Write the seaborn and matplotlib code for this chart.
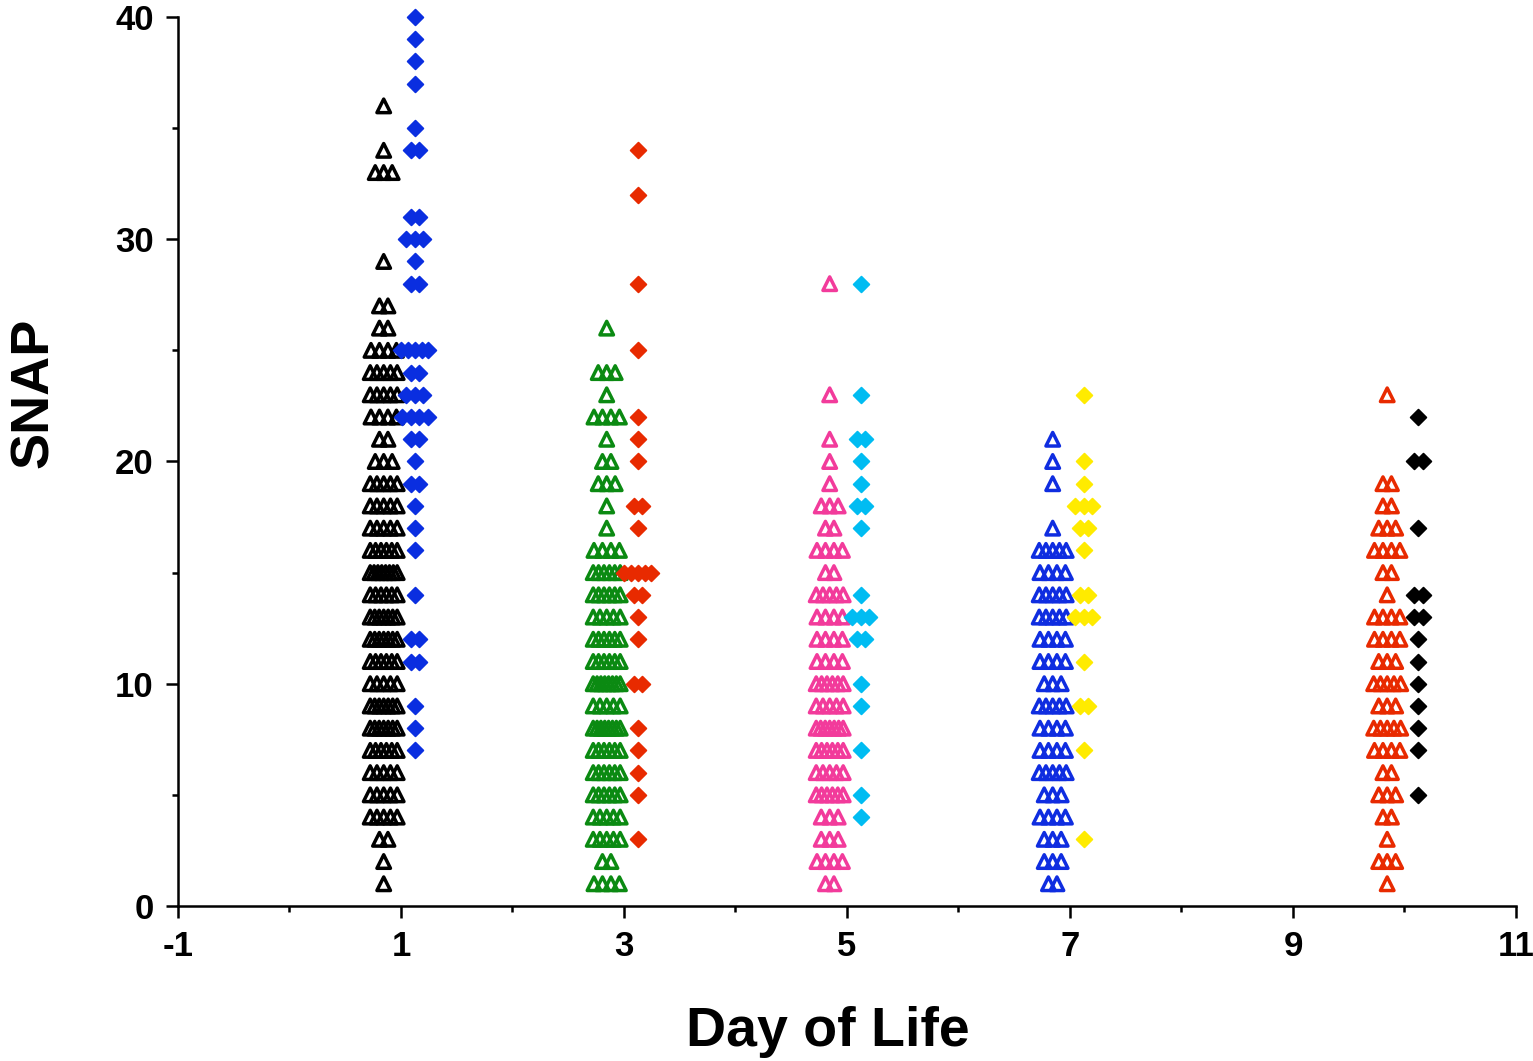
import numpy as np
import pandas as pd
import matplotlib
matplotlib.use("Agg")
import matplotlib.pyplot as plt
import seaborn as sns
from matplotlib.ticker import FixedLocator

# SNAP score -> number of infants with that score, per day of life.
# "open" = open triangles (left column), "solid" = filled diamonds (right column)
days = [1, 3, 5, 7, 10]

day1_open = {36: 1, 34: 1, 33: 3, 29: 1, 27: 2, 26: 2, 25: 4, 24: 5, 23: 5, 22: 4,
             21: 2, 20: 3, 19: 5, 18: 5, 17: 5, 16: 6, 15: 8, 14: 6, 13: 7, 12: 7,
             11: 6, 10: 5, 9: 7, 8: 7, 7: 6, 6: 5, 5: 5, 4: 5, 3: 2, 2: 1, 1: 1}
day1_solid = {40: 1, 39: 1, 38: 1, 37: 1, 35: 1, 34: 2, 31: 2, 30: 3, 29: 1, 28: 2,
              25: 5, 24: 2, 23: 3, 22: 4, 21: 2, 20: 1, 19: 2, 18: 1, 17: 1, 16: 1,
              14: 1, 12: 2, 11: 2, 9: 1, 8: 1, 7: 1}

day3_open = {26: 1, 24: 3, 23: 1, 22: 4, 21: 1, 20: 2, 19: 3, 18: 1, 17: 1, 16: 4,
             15: 6, 14: 6, 13: 5, 12: 6, 11: 6, 10: 8, 9: 5, 8: 8, 7: 6, 6: 6,
             5: 6, 4: 5, 3: 5, 2: 2, 1: 4}
day3_solid = {34: 1, 32: 1, 28: 1, 25: 1, 22: 1, 21: 1, 20: 1, 18: 2, 17: 1, 15: 5,
              14: 2, 13: 1, 12: 1, 10: 2, 8: 1, 7: 1, 6: 1, 5: 1, 3: 1}

day5_open = {28: 1, 23: 1, 21: 1, 20: 1, 19: 1, 18: 3, 17: 2, 16: 4, 15: 2, 14: 5,
             13: 4, 12: 4, 11: 4, 10: 6, 9: 5, 8: 7, 7: 6, 6: 5, 5: 6, 4: 3,
             3: 3, 2: 4, 1: 2}
day5_solid = {28: 1, 23: 1, 21: 2, 20: 1, 19: 1, 18: 2, 17: 1, 14: 1, 13: 3, 12: 2,
              10: 1, 9: 1, 7: 1, 5: 1, 4: 1}

day7_open = {21: 1, 20: 1, 19: 1, 17: 1, 16: 5, 15: 4, 14: 5, 13: 5, 12: 4, 11: 4,
             10: 3, 9: 5, 8: 4, 7: 4, 6: 5, 5: 3, 4: 4, 3: 3, 2: 3, 1: 2}
day7_solid = {23: 1, 20: 1, 19: 1, 18: 3, 17: 2, 16: 1, 14: 2, 13: 3, 11: 1, 9: 2,
              7: 1, 3: 1}

day10_open = {23: 1, 19: 2, 18: 2, 17: 3, 16: 4, 15: 2, 14: 1, 13: 4, 12: 4, 11: 3,
              10: 5, 9: 3, 8: 5, 7: 4, 6: 2, 5: 3, 4: 2, 3: 1, 2: 3, 1: 1}
day10_solid = {22: 1, 20: 2, 17: 1, 14: 2, 13: 2, 12: 1, 11: 1, 10: 1, 9: 1, 8: 1,
               7: 1, 5: 1}

open_series = [day1_open, day3_open, day5_open, day7_open, day10_open]
solid_series = [day1_solid, day3_solid, day5_solid, day7_solid, day10_solid]
open_colors = ["#000000", "#0b8a12", "#f23b9b", "#0f2de0", "#e82a00"]
solid_colors = ["#0a2ee0", "#e82a00", "#00bcf2", "#ffeb00", "#000000"]

x_major = [-1, 1, 3, 5, 7, 9, 11]
x_minor = [0, 2, 4, 6, 8, 10]
y_major = [0, 10, 20, 30, 40]
y_minor = [5, 15, 25, 35]


def column_points(counts, center, step=0.076, max_width=0.242):
    """Spread tied scores side by side around the column centre."""
    xs, ys = [], []
    for value, n in counts.items():
        width = min((n - 1) * step, max_width)
        offsets = np.linspace(-width / 2, width / 2, n) if n > 1 else np.array([0.0])
        xs.extend(center + offsets)
        ys.extend([value] * n)
    return pd.DataFrame({"day": xs, "snap": ys})


sns.set_style("white")
plt.rcParams["font.family"] = ["Liberation Sans", "DejaVu Sans"]
plt.rcParams["font.weight"] = "bold"
plt.rcParams["axes.unicode_minus"] = False

fig = plt.figure(figsize=(15.33, 10.61), dpi=100)
ax = fig.add_axes([0.1161, 0.1461, 0.8728, 0.8379])

for d, counts, color in zip(days, open_series, open_colors):
    df = column_points(counts, d - 0.155)
    sns.scatterplot(data=df, x="day", y="snap", ax=ax, marker="^", s=95,
                    facecolor="none", edgecolor=color, linewidth=2.5,
                    clip_on=False, legend=False, zorder=3)
    coll = ax.collections[-1]
    coll.set_facecolor("none")
    coll.set_edgecolor(color)

for d, counts, color in zip(days, solid_series, solid_colors):
    df = column_points(counts, d + 0.125)
    sns.scatterplot(data=df, x="day", y="snap", ax=ax, marker="D", s=64,
                    color=color, edgecolor=color, linewidth=1.3,
                    clip_on=False, legend=False, zorder=4)

ax.set_xlim(-1, 11)
ax.set_ylim(0, 40)
ax.xaxis.set_major_locator(FixedLocator(x_major))
ax.xaxis.set_minor_locator(FixedLocator(x_minor))
ax.yaxis.set_major_locator(FixedLocator(y_major))
ax.yaxis.set_minor_locator(FixedLocator(y_minor))

for side in ["top", "right"]:
    ax.spines[side].set_visible(False)
for side in ["left", "bottom"]:
    ax.spines[side].set_linewidth(1.8)
    ax.spines[side].set_color("black")

ax.tick_params(axis="both", which="major", direction="out", length=8.6, width=1.8,
               pad=9, labelsize=25, colors="black")
ax.tick_params(axis="both", which="minor", direction="out", length=4.3, width=1.8,
               colors="black")
ax.tick_params(axis="both", which="both", bottom=True, left=True)
for lab in ax.get_xticklabels() + ax.get_yticklabels():
    lab.set_fontweight("bold")

ax.set_xlabel("Day of Life", fontsize=40, fontweight="bold", color="black")
ax.set_ylabel("SNAP", fontsize=39, fontweight="bold", color="black")
ax.xaxis.set_label_coords(0.486, -0.112)
ax.yaxis.set_label_coords(-0.089, 0.577)

fig.savefig("out.png", dpi=100)
